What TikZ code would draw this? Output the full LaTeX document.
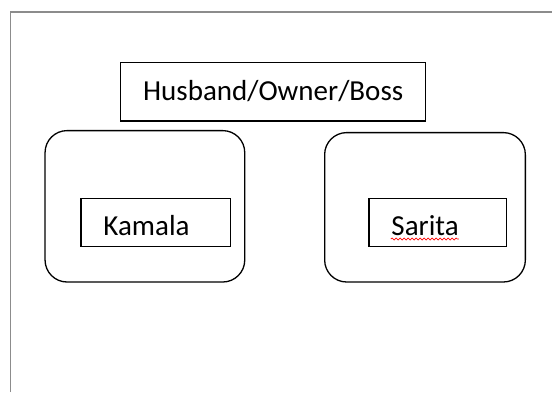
\documentclass[tikz,border=0pt]{standalone}
\usepackage{fontspec}
\setmainfont{Carlito}
\usetikzlibrary{decorations.pathmorphing}

\begin{document}
\begin{tikzpicture}[x=1pt, y=-1pt,
  namebox/.style={draw, line width=1.3pt, align=left, inner xsep=22.5pt, inner ysep=0pt,
    text depth=0pt, font=\fontsize{29}{35}\selectfont},
  groupbox/.style={draw, line width=1.3pt, rounded corners=22pt}]
\useasboundingbox (0,0) rectangle (552,392);

% Draw page frame.
\draw[line width=1.6pt, gray!90] (10.5,392) -- (10.5,12) -- (552,12);

% Draw groups.
\node[groupbox, minimum width=199.7pt, minimum height=151.4pt] (kamalagroup) at (144.9,206.3) {};
\node[groupbox, minimum width=200.7pt, minimum height=149.4pt] (saritagroup) at (425,207.3) {};

% Draw names.
\node[namebox, text width=259.7pt, minimum height=58.7pt, text height=16.6pt] (husband) at (273,91.7) {Husband/Owner/Boss};
\node[namebox, text width=104.7pt, minimum height=47.4pt, text height=25pt] (kamala) at (155.8,222.5) {Kamala};
\node[namebox, text width=92.7pt, minimum height=47.4pt, text height=25pt] (sarita) at (437.8,222.5) {Sarita};

% Draw spell check mark.
\draw[red, line width=0.7pt, decorate, decoration={snake, amplitude=1pt, segment length=4pt}]
  ([xshift=22.5pt, yshift=-4pt]sarita.base west) -- ++(68,0);

\end{tikzpicture}
\end{document}
